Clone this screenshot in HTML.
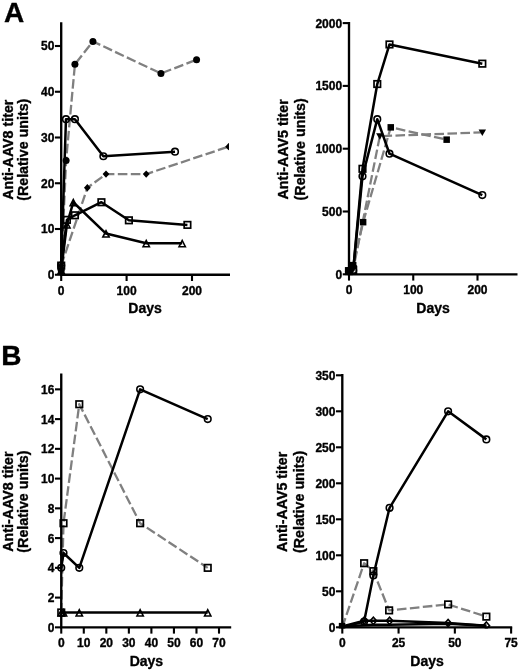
<!DOCTYPE html>
<html><head><meta charset="utf-8"><title>Figure</title>
<style>
html,body{margin:0;padding:0;background:#fff}
body{width:520px;height:672px;overflow:hidden}
svg{display:block;will-change:transform}
text{font-family:"Liberation Sans",sans-serif;font-weight:bold;fill:#000;stroke:#000;stroke-width:0.35px;stroke-linejoin:round}
.t{font-size:12px}
.l{font-size:14px}
.yl{font-size:14.25px}
.p{font-size:28px}
</style></head><body>
<svg width="520" height="672" viewBox="0 0 520 672">
<rect width="520" height="672" fill="#fff"/>
<text x="3.9" y="22" class="p">A</text>
<text x="1.2" y="365.2" class="p">B</text>
<clipPath id="c886"><rect x="0" y="0" width="229" height="275.93"/></clipPath>
<g clip-path="url(#c886)">
<polyline points="61.2,270.18 66.11,160.38 74.93,64.3 92.92,41.42 160.94,73.45 196.58,59.72" fill="none" stroke="#808080" stroke-width="2.3" stroke-dasharray="9.6 3.4" stroke-linejoin="round"/>
<polyline points="61.2,265.6 87.36,187.82 106,174.1 146.22,174.1 228.62,146.65" fill="none" stroke="#808080" stroke-width="2.3" stroke-dasharray="9.6 3.4" stroke-linejoin="round"/>
<polyline points="61.2,265.6 65.97,119.2 74.93,119.2 103.38,156.26 175,151.68" fill="none" stroke="#000" stroke-width="2.5" stroke-linejoin="round"/>
<polyline points="61.2,265.6 66.89,219.85 74.93,215.28 101.42,202.24 128.89,220.31 187.42,224.88" fill="none" stroke="#000" stroke-width="2.5" stroke-linejoin="round"/>
<polyline points="61.2,270.18 66.89,224.43 73.3,202.24 106,233.57 146.22,243.18 182.19,243.18" fill="none" stroke="#000" stroke-width="2.5" stroke-linejoin="round"/>
<circle cx="61.2" cy="270.18" r="3.5" fill="#000"/>
<circle cx="66.11" cy="160.38" r="3.5" fill="#000"/>
<circle cx="74.93" cy="64.3" r="3.5" fill="#000"/>
<circle cx="92.92" cy="41.42" r="3.5" fill="#000"/>
<circle cx="160.94" cy="73.45" r="3.5" fill="#000"/>
<circle cx="196.58" cy="59.72" r="3.5" fill="#000"/>
<path d="M57.8 265.6L61.2 261.9L64.6 265.6L61.2 269.3Z" fill="#000"/>
<path d="M83.96 187.82L87.36 184.12L90.76 187.82L87.36 191.52Z" fill="#000"/>
<path d="M102.6 174.1L106 170.4L109.4 174.1L106 177.8Z" fill="#000"/>
<path d="M142.82 174.1L146.22 170.4L149.62 174.1L146.22 177.8Z" fill="#000"/>
<path d="M225.22 146.65L228.62 142.95L232.02 146.65L228.62 150.35Z" fill="#000"/>
<circle cx="61.2" cy="265.6" r="3.3" fill="none" stroke="#000" stroke-width="1.6"/>
<circle cx="65.97" cy="119.2" r="3.3" fill="none" stroke="#000" stroke-width="1.6"/>
<circle cx="74.93" cy="119.2" r="3.3" fill="none" stroke="#000" stroke-width="1.6"/>
<circle cx="103.38" cy="156.26" r="3.3" fill="none" stroke="#000" stroke-width="1.6"/>
<circle cx="175" cy="151.68" r="3.3" fill="none" stroke="#000" stroke-width="1.6"/>
<rect x="57.95" y="262.35" width="6.5" height="6.5" fill="none" stroke="#000" stroke-width="1.7"/>
<rect x="63.64" y="216.6" width="6.5" height="6.5" fill="none" stroke="#000" stroke-width="1.7"/>
<rect x="71.68" y="212.03" width="6.5" height="6.5" fill="none" stroke="#000" stroke-width="1.7"/>
<rect x="98.17" y="198.99" width="6.5" height="6.5" fill="none" stroke="#000" stroke-width="1.7"/>
<rect x="125.64" y="217.06" width="6.5" height="6.5" fill="none" stroke="#000" stroke-width="1.7"/>
<rect x="184.17" y="221.63" width="6.5" height="6.5" fill="none" stroke="#000" stroke-width="1.7"/>
<path d="M58.05 273.68L64.35 273.68L61.2 267.48Z" fill="none" stroke="#000" stroke-width="1.6" stroke-linejoin="miter"/>
<path d="M63.74 227.93L70.04 227.93L66.89 221.73Z" fill="none" stroke="#000" stroke-width="1.6" stroke-linejoin="miter"/>
<path d="M70.15 205.74L76.45 205.74L73.3 199.54Z" fill="none" stroke="#000" stroke-width="1.6" stroke-linejoin="miter"/>
<path d="M102.85 237.07L109.15 237.07L106 230.88Z" fill="none" stroke="#000" stroke-width="1.6" stroke-linejoin="miter"/>
<path d="M143.07 246.68L149.37 246.68L146.22 240.48Z" fill="none" stroke="#000" stroke-width="1.6" stroke-linejoin="miter"/>
<path d="M179.04 246.68L185.34 246.68L182.19 240.48Z" fill="none" stroke="#000" stroke-width="1.6" stroke-linejoin="miter"/>
</g>
<path d="M61.2 22.32V275.93M60.03 274.75H230" stroke="#000" stroke-width="2.35" fill="none"/>
<path d="M54.93 274.75H61.2" stroke="#000" stroke-width="2.1"/>
<text x="54.33" y="279.15" text-anchor="end" class="t">0</text>
<path d="M54.93 229H61.2" stroke="#000" stroke-width="2.1"/>
<text x="54.33" y="233.4" text-anchor="end" class="t">10</text>
<path d="M54.93 183.25H61.2" stroke="#000" stroke-width="2.1"/>
<text x="54.33" y="187.65" text-anchor="end" class="t">20</text>
<path d="M54.93 137.5H61.2" stroke="#000" stroke-width="2.1"/>
<text x="54.33" y="141.9" text-anchor="end" class="t">30</text>
<path d="M54.93 91.75H61.2" stroke="#000" stroke-width="2.1"/>
<text x="54.33" y="96.15" text-anchor="end" class="t">40</text>
<path d="M54.93 46H61.2" stroke="#000" stroke-width="2.1"/>
<text x="54.33" y="50.4" text-anchor="end" class="t">50</text>
<path d="M61.2 274.75V281.03" stroke="#000" stroke-width="2.1"/>
<text x="61.2" y="294.55" text-anchor="middle" class="t">0</text>
<path d="M126.6 274.75V281.03" stroke="#000" stroke-width="2.1"/>
<text x="126.6" y="294.55" text-anchor="middle" class="t">100</text>
<path d="M192 274.75V281.03" stroke="#000" stroke-width="2.1"/>
<text x="192" y="294.55" text-anchor="middle" class="t">200</text>
<text x="145" y="313.25" text-anchor="middle" class="l">Days</text>
<text transform="translate(12.6 149.72) rotate(-90)" text-anchor="middle" class="yl"><tspan x="0" y="0">Anti-AAV8 titer</tspan><tspan x="0" y="15.9">(Relative units)</tspan></text>
<clipPath id="c3764"><rect x="0" y="0" width="520" height="275.48"/></clipPath>
<g clip-path="url(#c3764)">
<polyline points="349,271.79 353.18,265.13 363.13,222.18 390.76,127.35 446.66,139.66" fill="none" stroke="#808080" stroke-width="2.3" stroke-dasharray="9.6 3.4" stroke-linejoin="round"/>
<polyline points="349,271.79 353.5,268.02 379.84,136.14 482.32,132.37" fill="none" stroke="#808080" stroke-width="2.3" stroke-dasharray="9.6 3.4" stroke-linejoin="round"/>
<polyline points="349,271.16 353.18,269.9 362.49,168.8 377.27,84.02 389.48,44.45 482.32,63.67" fill="none" stroke="#000" stroke-width="2.5" stroke-linejoin="round"/>
<polyline points="349,271.16 353.18,270.53 362.49,176.33 377.27,119.18 389.48,153.72 482.32,195.05" fill="none" stroke="#000" stroke-width="2.5" stroke-linejoin="round"/>
<rect x="345.75" y="268.54" width="6.5" height="6.5" fill="#000"/>
<rect x="349.93" y="261.88" width="6.5" height="6.5" fill="#000"/>
<rect x="359.88" y="218.93" width="6.5" height="6.5" fill="#000"/>
<rect x="387.51" y="124.1" width="6.5" height="6.5" fill="#000"/>
<rect x="443.41" y="136.41" width="6.5" height="6.5" fill="#000"/>
<path d="M345.3 268.91L352.7 268.91L349 275.31Z" fill="#000"/>
<path d="M349.8 265.14L357.2 265.14L353.5 271.54Z" fill="#000"/>
<path d="M376.14 133.26L383.54 133.26L379.84 139.66Z" fill="#000"/>
<path d="M478.62 129.49L486.02 129.49L482.32 135.89Z" fill="#000"/>
<rect x="345.75" y="267.91" width="6.5" height="6.5" fill="none" stroke="#000" stroke-width="1.7"/>
<rect x="349.93" y="266.65" width="6.5" height="6.5" fill="none" stroke="#000" stroke-width="1.7"/>
<rect x="359.24" y="165.55" width="6.5" height="6.5" fill="none" stroke="#000" stroke-width="1.7"/>
<rect x="374.02" y="80.77" width="6.5" height="6.5" fill="none" stroke="#000" stroke-width="1.7"/>
<rect x="386.23" y="41.2" width="6.5" height="6.5" fill="none" stroke="#000" stroke-width="1.7"/>
<rect x="479.07" y="60.42" width="6.5" height="6.5" fill="none" stroke="#000" stroke-width="1.7"/>
<circle cx="349" cy="271.16" r="3.3" fill="none" stroke="#000" stroke-width="1.6"/>
<circle cx="353.18" cy="270.53" r="3.3" fill="none" stroke="#000" stroke-width="1.6"/>
<circle cx="362.49" cy="176.33" r="3.3" fill="none" stroke="#000" stroke-width="1.6"/>
<circle cx="377.27" cy="119.18" r="3.3" fill="none" stroke="#000" stroke-width="1.6"/>
<circle cx="389.48" cy="153.72" r="3.3" fill="none" stroke="#000" stroke-width="1.6"/>
<circle cx="482.32" cy="195.05" r="3.3" fill="none" stroke="#000" stroke-width="1.6"/>
</g>
<path d="M349 21.93V275.48M347.82 274.3H517.5" stroke="#000" stroke-width="2.35" fill="none"/>
<path d="M342.72 274.3H349" stroke="#000" stroke-width="2.1"/>
<text x="342.12" y="278.7" text-anchor="end" class="t">0</text>
<path d="M342.72 211.5H349" stroke="#000" stroke-width="2.1"/>
<text x="342.12" y="215.9" text-anchor="end" class="t">500</text>
<path d="M342.72 148.7H349" stroke="#000" stroke-width="2.1"/>
<text x="342.12" y="153.1" text-anchor="end" class="t">1000</text>
<path d="M342.72 85.9H349" stroke="#000" stroke-width="2.1"/>
<text x="342.12" y="90.3" text-anchor="end" class="t">1500</text>
<path d="M342.72 23.1H349" stroke="#000" stroke-width="2.1"/>
<text x="342.12" y="27.5" text-anchor="end" class="t">2000</text>
<path d="M349 274.3V280.58" stroke="#000" stroke-width="2.1"/>
<text x="349" y="294.1" text-anchor="middle" class="t">0</text>
<path d="M413.25 274.3V280.58" stroke="#000" stroke-width="2.1"/>
<text x="413.25" y="294.1" text-anchor="middle" class="t">100</text>
<path d="M477.5 274.3V280.58" stroke="#000" stroke-width="2.1"/>
<text x="477.5" y="294.1" text-anchor="middle" class="t">200</text>
<text x="433" y="312.8" text-anchor="middle" class="l">Days</text>
<text transform="translate(287.7 149.3) rotate(-90)" text-anchor="middle" class="yl"><tspan x="0" y="0">Anti-AAV5 titer</tspan><tspan x="0" y="17">(Relative units)</tspan></text>
<clipPath id="c1239"><rect x="0" y="0" width="520" height="628.52"/></clipPath>
<g clip-path="url(#c1239)">
<polyline points="61.25,612.48 63.5,523.23 79.28,404.23 140.13,523.23 207.73,567.85" fill="none" stroke="#808080" stroke-width="2.3" stroke-dasharray="9.6 3.4" stroke-linejoin="round"/>
<polyline points="61.25,567.85 63.5,552.98 79.28,567.85 140.13,389.35 207.73,419.1" fill="none" stroke="#000" stroke-width="2.5" stroke-linejoin="round"/>
<polyline points="61.25,612.48 63.5,612.48 79.28,612.48 140.13,612.48 207.73,612.48" fill="none" stroke="#000" stroke-width="2.5" stroke-linejoin="round"/>
<rect x="58" y="609.23" width="6.5" height="6.5" fill="none" stroke="#000" stroke-width="1.7"/>
<rect x="60.25" y="519.98" width="6.5" height="6.5" fill="none" stroke="#000" stroke-width="1.7"/>
<rect x="76.03" y="400.98" width="6.5" height="6.5" fill="none" stroke="#000" stroke-width="1.7"/>
<rect x="136.88" y="519.98" width="6.5" height="6.5" fill="none" stroke="#000" stroke-width="1.7"/>
<rect x="204.48" y="564.6" width="6.5" height="6.5" fill="none" stroke="#000" stroke-width="1.7"/>
<circle cx="61.25" cy="567.85" r="3.3" fill="none" stroke="#000" stroke-width="1.6"/>
<circle cx="63.5" cy="552.98" r="3.3" fill="none" stroke="#000" stroke-width="1.6"/>
<circle cx="79.28" cy="567.85" r="3.3" fill="none" stroke="#000" stroke-width="1.6"/>
<circle cx="140.13" cy="389.35" r="3.3" fill="none" stroke="#000" stroke-width="1.6"/>
<circle cx="207.73" cy="419.1" r="3.3" fill="none" stroke="#000" stroke-width="1.6"/>
<path d="M58.1 615.98L64.4 615.98L61.25 609.77Z" fill="none" stroke="#000" stroke-width="1.6" stroke-linejoin="miter"/>
<path d="M60.35 615.98L66.65 615.98L63.5 609.77Z" fill="none" stroke="#000" stroke-width="1.6" stroke-linejoin="miter"/>
<path d="M76.13 615.98L82.43 615.98L79.28 609.77Z" fill="none" stroke="#000" stroke-width="1.6" stroke-linejoin="miter"/>
<path d="M136.98 615.98L143.28 615.98L140.13 609.77Z" fill="none" stroke="#000" stroke-width="1.6" stroke-linejoin="miter"/>
<path d="M204.58 615.98L210.88 615.98L207.73 609.77Z" fill="none" stroke="#000" stroke-width="1.6" stroke-linejoin="miter"/>
</g>
<path d="M61.25 373.43V628.52M60.08 627.35H231.2" stroke="#000" stroke-width="2.35" fill="none"/>
<path d="M54.98 627.35H61.25" stroke="#000" stroke-width="2.1"/>
<text x="54.38" y="631.75" text-anchor="end" class="t">0</text>
<path d="M54.98 597.6H61.25" stroke="#000" stroke-width="2.1"/>
<text x="54.38" y="602" text-anchor="end" class="t">2</text>
<path d="M54.98 567.85H61.25" stroke="#000" stroke-width="2.1"/>
<text x="54.38" y="572.25" text-anchor="end" class="t">4</text>
<path d="M54.98 538.1H61.25" stroke="#000" stroke-width="2.1"/>
<text x="54.38" y="542.5" text-anchor="end" class="t">6</text>
<path d="M54.98 508.35H61.25" stroke="#000" stroke-width="2.1"/>
<text x="54.38" y="512.75" text-anchor="end" class="t">8</text>
<path d="M54.98 478.6H61.25" stroke="#000" stroke-width="2.1"/>
<text x="54.38" y="483" text-anchor="end" class="t">10</text>
<path d="M54.98 448.85H61.25" stroke="#000" stroke-width="2.1"/>
<text x="54.38" y="453.25" text-anchor="end" class="t">12</text>
<path d="M54.98 419.1H61.25" stroke="#000" stroke-width="2.1"/>
<text x="54.38" y="423.5" text-anchor="end" class="t">14</text>
<path d="M54.98 389.35H61.25" stroke="#000" stroke-width="2.1"/>
<text x="54.38" y="393.75" text-anchor="end" class="t">16</text>
<path d="M61.25 627.35V633.62" stroke="#000" stroke-width="2.1"/>
<text x="61.25" y="647.15" text-anchor="middle" class="t">0</text>
<path d="M83.79 627.35V633.62" stroke="#000" stroke-width="2.1"/>
<text x="83.79" y="647.15" text-anchor="middle" class="t">10</text>
<path d="M106.32 627.35V633.62" stroke="#000" stroke-width="2.1"/>
<text x="106.32" y="647.15" text-anchor="middle" class="t">20</text>
<path d="M128.86 627.35V633.62" stroke="#000" stroke-width="2.1"/>
<text x="128.86" y="647.15" text-anchor="middle" class="t">30</text>
<path d="M151.39 627.35V633.62" stroke="#000" stroke-width="2.1"/>
<text x="151.39" y="647.15" text-anchor="middle" class="t">40</text>
<path d="M173.93 627.35V633.62" stroke="#000" stroke-width="2.1"/>
<text x="173.93" y="647.15" text-anchor="middle" class="t">50</text>
<path d="M196.47 627.35V633.62" stroke="#000" stroke-width="2.1"/>
<text x="196.47" y="647.15" text-anchor="middle" class="t">60</text>
<path d="M219 627.35V633.62" stroke="#000" stroke-width="2.1"/>
<text x="219" y="647.15" text-anchor="middle" class="t">70</text>
<text x="146.4" y="665.85" text-anchor="middle" class="l">Days</text>
<text transform="translate(12.6 501.58) rotate(-90)" text-anchor="middle" class="yl"><tspan x="0" y="0">Anti-AAV8 titer</tspan><tspan x="0" y="15.9">(Relative units)</tspan></text>
<clipPath id="c4050"><rect x="0" y="0" width="520" height="628.47"/></clipPath>
<g clip-path="url(#c4050)">
<polyline points="342.3,627.3 364.13,563.22 373.36,571.14 389.12,610.38 448.1,604.4 486.36,616.64" fill="none" stroke="#808080" stroke-width="2.3" stroke-dasharray="9.6 3.4" stroke-linejoin="round"/>
<polyline points="342.3,627.3 364.13,621.54 373.36,575.46 389.57,507.78 448.1,411.3 486.36,439.38" fill="none" stroke="#000" stroke-width="2.5" stroke-linejoin="round"/>
<polyline points="342.3,626.58 364.13,620.82 373.36,620.82 389.57,620.82 448.1,622.98 486.36,625.64" fill="none" stroke="#000" stroke-width="2.5" stroke-linejoin="round"/>
<polyline points="342.3,626.58 364.13,625.14 373.36,624.78 389.57,624.78 448.1,623.7 486.36,625.64" fill="none" stroke="#000" stroke-width="2.5" stroke-linejoin="round"/>
<polyline points="342.07,626.15" fill="none" stroke="#000" stroke-width="2.5" stroke-linejoin="round"/>
<rect x="360.88" y="559.97" width="6.5" height="6.5" fill="none" stroke="#000" stroke-width="1.7"/>
<rect x="370.11" y="567.89" width="6.5" height="6.5" fill="none" stroke="#000" stroke-width="1.7"/>
<rect x="385.87" y="607.13" width="6.5" height="6.5" fill="none" stroke="#000" stroke-width="1.7"/>
<rect x="444.85" y="601.15" width="6.5" height="6.5" fill="none" stroke="#000" stroke-width="1.7"/>
<rect x="483.11" y="613.39" width="6.5" height="6.5" fill="none" stroke="#000" stroke-width="1.7"/>
<circle cx="364.13" cy="621.54" r="3.3" fill="none" stroke="#000" stroke-width="1.6"/>
<circle cx="373.36" cy="575.46" r="3.3" fill="none" stroke="#000" stroke-width="1.6"/>
<circle cx="389.57" cy="507.78" r="3.3" fill="none" stroke="#000" stroke-width="1.6"/>
<circle cx="448.1" cy="411.3" r="3.3" fill="none" stroke="#000" stroke-width="1.6"/>
<circle cx="486.36" cy="439.38" r="3.3" fill="none" stroke="#000" stroke-width="1.6"/>
<path d="M360.93 620.82L364.13 617.22L367.33 620.82L364.13 624.42Z" fill="none" stroke="#000" stroke-width="1.6"/>
<path d="M370.16 620.82L373.36 617.22L376.56 620.82L373.36 624.42Z" fill="none" stroke="#000" stroke-width="1.6"/>
<path d="M386.37 620.82L389.57 617.22L392.77 620.82L389.57 624.42Z" fill="none" stroke="#000" stroke-width="1.6"/>
<path d="M444.9 622.98L448.1 619.38L451.3 622.98L448.1 626.58Z" fill="none" stroke="#000" stroke-width="1.6"/>
<path d="M483.16 625.64L486.36 622.04L489.56 625.64L486.36 629.24Z" fill="none" stroke="#000" stroke-width="1.6"/>
<rect x="338.82" y="622.9" width="6.5" height="6.5" fill="#000"/>
</g>
<path d="M342.3 374.12V628.47M341.12 627.3H512.2" stroke="#000" stroke-width="2.35" fill="none"/>
<path d="M336.02 627.3H342.3" stroke="#000" stroke-width="2.1"/>
<text x="335.42" y="631.7" text-anchor="end" class="t">0</text>
<path d="M336.02 591.3H342.3" stroke="#000" stroke-width="2.1"/>
<text x="335.42" y="595.7" text-anchor="end" class="t">50</text>
<path d="M336.02 555.3H342.3" stroke="#000" stroke-width="2.1"/>
<text x="335.42" y="559.7" text-anchor="end" class="t">100</text>
<path d="M336.02 519.3H342.3" stroke="#000" stroke-width="2.1"/>
<text x="335.42" y="523.7" text-anchor="end" class="t">150</text>
<path d="M336.02 483.3H342.3" stroke="#000" stroke-width="2.1"/>
<text x="335.42" y="487.7" text-anchor="end" class="t">200</text>
<path d="M336.02 447.3H342.3" stroke="#000" stroke-width="2.1"/>
<text x="335.42" y="451.7" text-anchor="end" class="t">250</text>
<path d="M336.02 411.3H342.3" stroke="#000" stroke-width="2.1"/>
<text x="335.42" y="415.7" text-anchor="end" class="t">300</text>
<path d="M336.02 375.3H342.3" stroke="#000" stroke-width="2.1"/>
<text x="335.42" y="379.7" text-anchor="end" class="t">350</text>
<path d="M342.3 627.3V633.57" stroke="#000" stroke-width="2.1"/>
<text x="342.3" y="647.1" text-anchor="middle" class="t">0</text>
<path d="M398.57 627.3V633.57" stroke="#000" stroke-width="2.1"/>
<text x="398.57" y="647.1" text-anchor="middle" class="t">25</text>
<path d="M454.85 627.3V633.57" stroke="#000" stroke-width="2.1"/>
<text x="454.85" y="647.1" text-anchor="middle" class="t">50</text>
<path d="M511.12 627.3V633.57" stroke="#000" stroke-width="2.1"/>
<text x="511.12" y="647.1" text-anchor="middle" class="t">75</text>
<text x="427" y="665.8" text-anchor="middle" class="l">Days</text>
<text transform="translate(287.3 501.9) rotate(-90)" text-anchor="middle" class="yl"><tspan x="0" y="0">Anti-AAV5 titer</tspan><tspan x="0" y="16.7">(Relative units)</tspan></text>
</svg>
</body></html>
